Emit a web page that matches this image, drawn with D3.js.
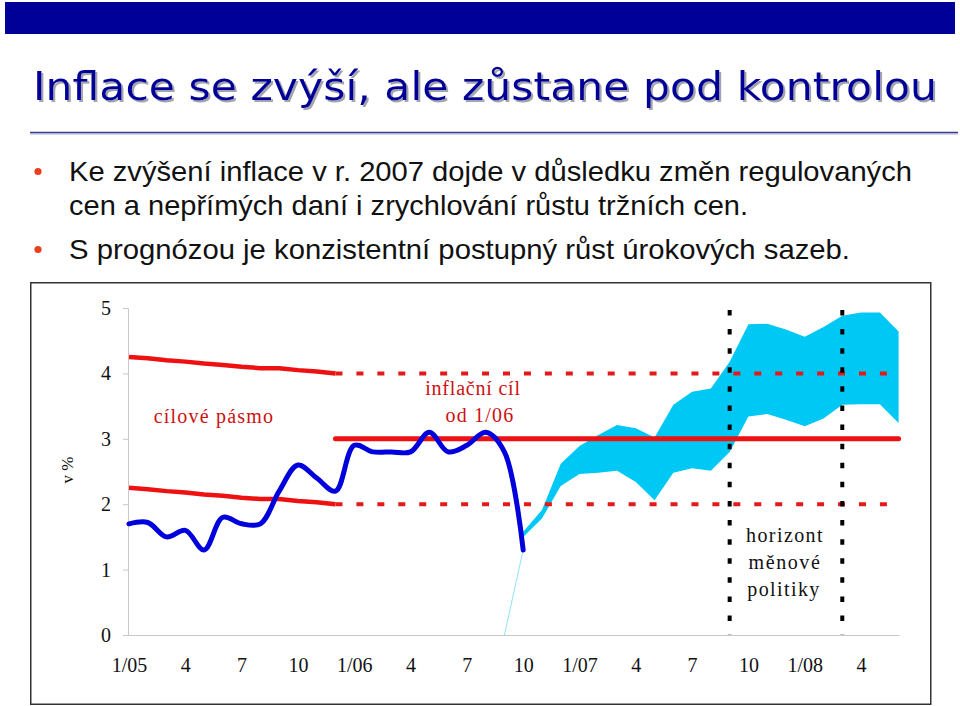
<!DOCTYPE html>
<html><head><meta charset="utf-8">
<script src="https://cdn.jsdelivr.net/npm/d3@7"></script>
<style>body{margin:0;background:#fff} svg{display:block}</style>
</head><body>
<svg id="c" width="960" height="706"></svg>
<script>
// ---------- data ----------
const titleText = "Inflace se zvýší, ale zůstane pod kontrolou";
const bulletLines = [
  "Ke zvýšení inflace v r. 2007 dojde v důsledku změn regulovaných",
  "cen a nepřímých daní i zrychlování růstu tržních cen.",
  "S prognózou je konzistentní postupný růst úrokových sazeb."
];
const yTicks = [0, 1, 2, 3, 4, 5];
const xTickMonths = [0, 3, 6, 9, 12, 15, 18, 21, 24, 27, 30, 33, 36, 39];
const xTickLabels = ["1/05","4","7","10","1/06","4","7","10","1/07","4","7","10","1/08","4"];
// actual CPI inflation, months 0 (1/05) .. 21 (10/06)
const inflation = [1.7,1.72,1.5,1.6,1.3,1.8,1.7,1.7,2.2,2.6,2.4,2.2,
                   2.9,2.8,2.8,2.8,3.1,2.8,2.9,3.1,2.8,1.3];
// target band 2005, months 0..11
const bandUpper = [4.25,4.23,4.2,4.18,4.15,4.13,4.1,4.08,4.08,4.05,4.03,4.0];
const bandLower = [2.25,2.23,2.2,2.18,2.15,2.13,2.1,2.08,2.08,2.05,2.03,2.0];
// inflation target from 1/06
const targetMonths = [11, 41];
const targetValue = 3;
const toleranceMonths = [11, 40.4];
const toleranceValues = [4, 2];
// forecast fan, months 21..41
const fanStart = 21;
const fanUpper = [1.58,1.91,2.62,2.89,3.06,3.21,3.16,3.02,3.52,3.72,3.77,4.18,4.75,4.76,4.67,4.56,4.71,4.88,4.93,4.93,4.64];
const fanLower = [1.5,1.78,2.28,2.46,2.48,2.51,2.34,2.06,2.48,2.55,2.51,2.8,3.34,3.38,3.29,3.19,3.31,3.52,3.53,3.53,3.24];
const fanBaseMonths = [20, 21];
const fanBaseValues = [0, 1.3];
// monetary policy horizon
const horizonMonths = [32, 38];
const horizonRange = [0, 4.97];

// ---------- drawing ----------
const svg = d3.select("#c");
const navy = "#000099";

const defs = svg.append("defs");
const f = defs.append("filter").attr("id","shadow").attr("x","-5%").attr("y","-20%").attr("width","110%").attr("height","150%");
f.append("feDropShadow").attr("dx",2).attr("dy",2).attr("stdDeviation",0.7).attr("flood-color","#9a9aa8").attr("flood-opacity",0.9);

// top bar
svg.append("rect").attr("x",5).attr("y",2).attr("width",950).attr("height",32).attr("fill",navy);

// title with shadow
svg.append("text").attr("x",33).attr("y",100)
  .attr("font-family","DejaVu Sans, Verdana, sans-serif").attr("font-size",39)
  .attr("textLength",904).attr("lengthAdjust","spacingAndGlyphs")
  .attr("fill",navy).attr("filter","url(#shadow)").text(titleText);
// rule
svg.append("line").attr("x1",30).attr("x2",958).attr("y1",134).attr("y2",134)
  .attr("stroke","#d8d8e8").attr("stroke-width",2);
svg.append("line").attr("x1",30).attr("x2",958).attr("y1",132.5).attr("y2",132.5)
  .attr("stroke","#3a3a90").attr("stroke-width",1.5);

// bullets
const bulletY = [181, 215, 259];
const bulletW = [843, 679, 781];
const bulletDot = [true, false, true];
bulletLines.forEach((t,i)=>{
  svg.append("text").attr("x",69).attr("y",bulletY[i])
    .attr("font-family","Liberation Sans, Arial, sans-serif").attr("font-size",28)
    .attr("textLength",bulletW[i]).attr("lengthAdjust","spacingAndGlyphs")
    .attr("fill","#111").text(t);
  if (bulletDot[i]) svg.append("circle").attr("cx",38).attr("cy",bulletY[i]-9.5).attr("r",3.6).attr("fill","#e8401c");
});

// chart frame
svg.append("rect").attr("x",30.75).attr("y",282.75).attr("width",900).attr("height",421.5)
  .attr("fill","#fff").attr("stroke","#333").attr("stroke-width",1.5);

const x = d3.scaleLinear().domain([0,41]).range([129,898.6]);
const y = d3.scaleLinear().domain([0,5]).range([635,308]);
const serif = "Liberation Serif, Times New Roman, serif";

// axes
const gy = svg.append("g").attr("transform",`translate(${x(0)-1},0)`)
  .call(d3.axisLeft(y).tickValues(yTicks).tickSize(5).tickPadding(12).tickFormat(d3.format("d")));
gy.selectAll("path,line").attr("stroke","#c8c8c8");
gy.selectAll("text").attr("font-family",serif).attr("font-size",20).attr("fill","#111");

const gx = svg.append("g").attr("transform",`translate(0,${y(0)})`)
  .call(d3.axisBottom(x).tickValues(xTickMonths).tickSize(0).tickPadding(23)
    .tickFormat((d,i)=>xTickLabels[i]));
gx.select("path").attr("stroke","#c8c8c8").attr("d",`M${x(0)-5},0.5H${x(41)+1}`);
gx.selectAll("text").attr("font-family",serif).attr("font-size",20).attr("fill","#111");

// fan
const fanData = fanUpper.map((u,i)=>({m:fanStart+i,u,l:fanLower[i]}));
svg.append("path").datum(fanData)
  .attr("d",d3.area().x(d=>x(d.m)).y0(d=>y(d.l)).y1(d=>y(d.u)))
  .attr("fill","#00c8f5");
svg.append("path").datum(fanBaseMonths.map((m,i)=>({m,v:fanBaseValues[i]})))
  .attr("d",d3.line().x(d=>x(d.m)).y(d=>y(d.v)))
  .attr("fill","none").attr("stroke","#8fe0f7").attr("stroke-width",1);

const line = d3.line().x(d=>x(d.m)).y(d=>y(d.v));
const red = "#ee1111";

// target band 2005
[bandUpper, bandLower].forEach(arr=>{
  svg.append("path").datum(arr.map((v,m)=>({m,v})))
    .attr("d",line).attr("fill","none").attr("stroke",red).attr("stroke-width",4.5);
});
// tolerance dashed
toleranceValues.forEach(v=>{
  svg.append("path").datum(toleranceMonths.map(m=>({m,v})))
    .attr("d",line).attr("fill","none").attr("stroke","#e41a1a").attr("stroke-width",4)
    .attr("stroke-dasharray","7,13.94");
});
// target line
svg.append("path").datum(targetMonths.map(m=>({m,v:targetValue})))
  .attr("d",line).attr("fill","none").attr("stroke",red).attr("stroke-width",5)
  .attr("stroke-linecap","round");

// horizon dotted lines
horizonMonths.forEach(m=>{
  svg.append("path").datum(horizonRange.slice().reverse().map(v=>({m,v})))
    .attr("d",line).attr("fill","none").attr("stroke","#000").attr("stroke-width",4)
    .attr("stroke-dasharray","5.5,13.6");
});

// inflation line
svg.append("path").datum(inflation.map((v,m)=>({m,v})))
  .attr("d",d3.line().x(d=>x(d.m)).y(d=>y(d.v)).curve(d3.curveCatmullRom.alpha(0.5)))
  .attr("fill","none").attr("stroke","#0000dd").attr("stroke-width",5)
  .attr("stroke-linejoin","round").attr("stroke-linecap","round");

// labels
function label(t, cx, cy, col, ls){
  svg.append("text").attr("x",cx).attr("y",cy).attr("text-anchor","middle")
    .attr("font-family",serif).attr("font-size",20).attr("letter-spacing",ls)
    .attr("fill",col).text(t);
}
const dred = "#cc1111";
label("cílové pásmo", 214, 423, dred, 1.2);
label("inflační cíl", 473, 395, dred, 0.8);
label("od 1/06", 480, 422, dred, 1.2);
label("horizont", 785, 542, "#111", 1.4);
label("měnové", 785, 569, "#111", 1.6);
label("politiky", 784, 596, "#111", 1.4);

svg.append("text").attr("transform","translate(73,470) rotate(-90)")
  .attr("text-anchor","middle").attr("font-family",serif).attr("font-size",17)
  .attr("fill","#111").text("v %");
</script>
</body></html>
